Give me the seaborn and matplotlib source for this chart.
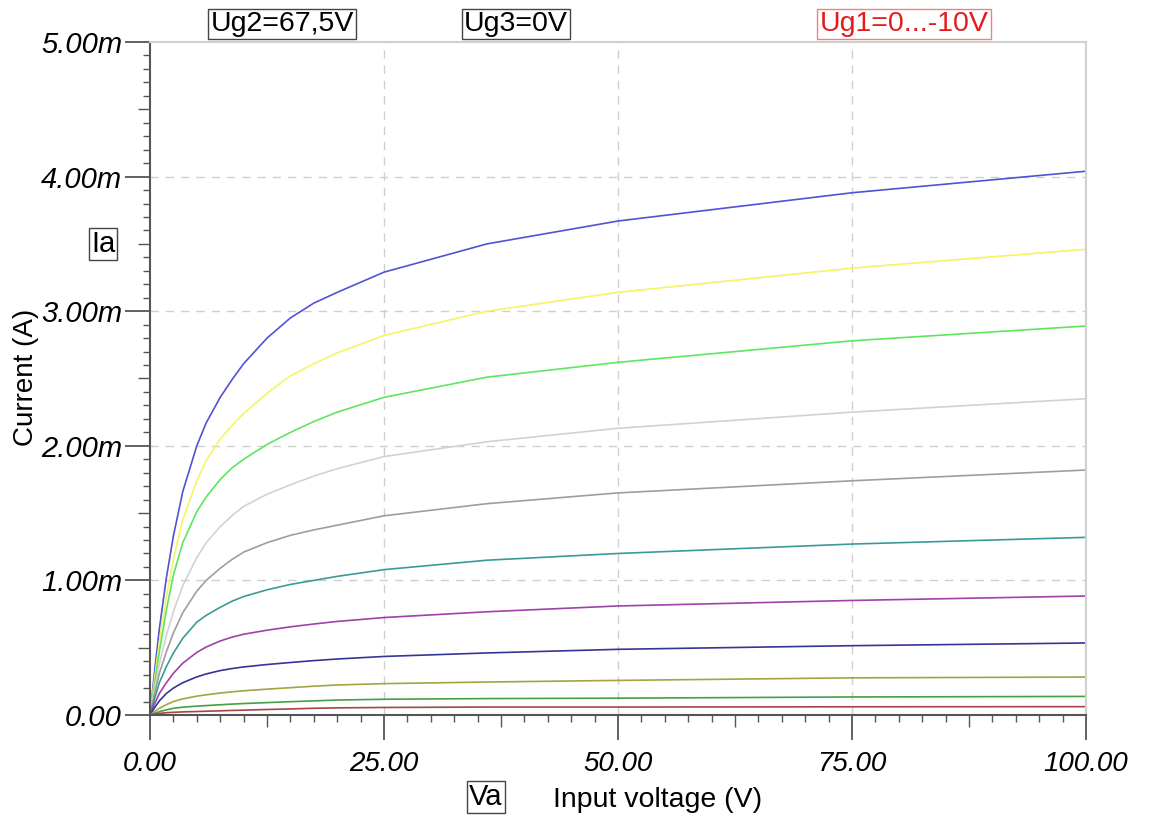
import numpy as np
import pandas as pd
import matplotlib
matplotlib.use("Agg")
import matplotlib.pyplot as plt
from matplotlib.ticker import MultipleLocator, FuncFormatter
import seaborn as sns

# ---- data (anode voltage in V, anode current in mA) ----
va = [0, 0.5, 1, 1.75, 2.5, 3.5, 5, 6, 7.5, 8.75, 10, 12.5, 15, 17.5, 20, 25, 36, 50, 75, 100]
ug1_labels = ["0V", "-1V", "-2V", "-3V", "-4V", "-5V", "-6V", "-7V", "-8V", "-9V", "-10V"]
ia_0 = [0, 0.33, 0.64, 1.02, 1.33, 1.66, 2.00, 2.17, 2.36, 2.49, 2.61, 2.80, 2.95, 3.06, 3.14, 3.29, 3.50, 3.67, 3.88, 4.04]
ia_1 = [0, 0.28, 0.54, 0.88, 1.16, 1.45, 1.74, 1.89, 2.05, 2.15, 2.24, 2.39, 2.52, 2.61, 2.69, 2.82, 3.00, 3.14, 3.32, 3.46]
ia_2 = [0, 0.24, 0.47, 0.78, 1.04, 1.28, 1.51, 1.62, 1.75, 1.835, 1.90, 2.01, 2.10, 2.18, 2.25, 2.36, 2.51, 2.62, 2.78, 2.89]
ia_3 = [0, 0.20, 0.38, 0.59, 0.77, 0.96, 1.17, 1.28, 1.40, 1.48, 1.55, 1.64, 1.71, 1.775, 1.83, 1.92, 2.03, 2.13, 2.25, 2.35]
ia_4 = [0, 0.16, 0.31, 0.47, 0.61, 0.76, 0.92, 1.00, 1.09, 1.155, 1.21, 1.28, 1.335, 1.375, 1.41, 1.48, 1.57, 1.65, 1.74, 1.82]
ia_5 = [0, 0.125, 0.24, 0.36, 0.46, 0.57, 0.69, 0.74, 0.80, 0.845, 0.88, 0.93, 0.97, 1.00, 1.03, 1.08, 1.15, 1.20, 1.27, 1.32]
ia_6 = [0, 0.085, 0.16, 0.24, 0.31, 0.385, 0.465, 0.505, 0.55, 0.578, 0.60, 0.63, 0.655, 0.676, 0.695, 0.724, 0.767, 0.81, 0.851, 0.884]
ia_7 = [0, 0.055, 0.105, 0.16, 0.20, 0.24, 0.283, 0.305, 0.33, 0.345, 0.357, 0.375, 0.39, 0.404, 0.416, 0.435, 0.461, 0.488, 0.515, 0.535]
ia_8 = [0, 0.025, 0.05, 0.077, 0.10, 0.12, 0.14, 0.15, 0.163, 0.172, 0.18, 0.192, 0.203, 0.214, 0.223, 0.233, 0.245, 0.257, 0.276, 0.282]
ia_9 = [0, 0.012, 0.025, 0.038, 0.05, 0.058, 0.066, 0.07, 0.076, 0.081, 0.085, 0.092, 0.099, 0.105, 0.111, 0.117, 0.122, 0.125, 0.134, 0.138]
ia_10 = [0, 0.006, 0.012, 0.017, 0.02, 0.023, 0.026, 0.028, 0.031, 0.034, 0.036, 0.041, 0.045, 0.05, 0.053, 0.056, 0.059, 0.059, 0.061, 0.062]
series = [ia_0, ia_1, ia_2, ia_3, ia_4, ia_5, ia_6, ia_7, ia_8, ia_9, ia_10]
colors = ["#5252d4", "#f4f464", "#5ee65e", "#d2d2d2", "#9e9e9e", "#3a9a9a",
          "#a040a8", "#34349a", "#a4a444", "#44a044", "#a84444"]
x_ticks = [0, 25, 50, 75, 100]
y_ticks_ma = [0, 1, 2, 3, 4, 5]

rows = []
for lab, vals in zip(ug1_labels, series):
    for v, i in zip(va, vals):
        rows.append({"Va": v, "Ia": i * 1e-3, "Ug1": lab})
df = pd.DataFrame(rows)

sns.set_style("white")
plt.rcParams["font.family"] = ["Liberation Sans", "DejaVu Sans"]
plt.rcParams["text.color"] = "black"

W, H = 1173, 821
fig = plt.figure(figsize=(W / 100, H / 100), dpi=100)
ax = fig.add_axes([150 / W, 1 - 715 / H, (1086 - 150) / W, (715 - 42) / H])

sns.lineplot(data=df, x="Va", y="Ia", hue="Ug1", hue_order=ug1_labels,
             palette=colors, estimator=None, sort=False, legend=False,
             linewidth=1.2, ax=ax)
for ln in ax.get_lines():
    ln.set_solid_joinstyle("round")

ax.set_xlim(0, 100)
ax.set_ylim(0, 5e-3)
ax.set_xlabel("")
ax.set_ylabel("")

ax.xaxis.set_major_locator(MultipleLocator(25))
ax.xaxis.set_minor_locator(MultipleLocator(2.5))
ax.yaxis.set_major_locator(MultipleLocator(1e-3))
ax.yaxis.set_minor_locator(MultipleLocator(1e-4))
ax.xaxis.set_major_formatter(FuncFormatter(lambda v, p: f"{v:.2f}"))
ax.yaxis.set_major_formatter(FuncFormatter(
    lambda v, p: "0.00" if abs(v) < 1e-9 else f"{v * 1e3:.2f}m"))

px = 0.72
axis_col = "#555555"
ax.tick_params(axis="both", which="both", bottom=True, left=True, top=False, right=False)
ax.tick_params(axis="both", which="major", direction="out", length=25 * px,
               width=1.3, color=axis_col, labelcolor="black")
ax.tick_params(axis="x", which="major", pad=11 * px, labelsize=20)
ax.tick_params(axis="y", which="major", pad=3 * px, labelsize=21)
ax.tick_params(axis="both", which="minor", direction="out", length=7 * px,
               width=1.0, color=axis_col)
for lbl in ax.get_xticklabels() + ax.get_yticklabels():
    lbl.set_fontstyle("italic")

# longer mid-decade minor ticks
ylocs = ax.yaxis.get_minorticklocs()
for t, loc in zip(ax.yaxis.get_minor_ticks(len(ylocs)), ylocs):
    if abs((loc * 1e4) % 10 - 5) < 1e-6:
        t.tick1line.set_markersize(12 * px)
xlocs = ax.xaxis.get_minorticklocs()
for t, loc in zip(ax.xaxis.get_minor_ticks(len(xlocs)), xlocs):
    if abs((loc / 2.5) % 10 - 5) < 1e-6:
        t.tick1line.set_markersize(12 * px)

for s in ["left", "bottom"]:
    ax.spines[s].set_color(axis_col)
    ax.spines[s].set_linewidth(1.5)
for s in ["top", "right"]:
    ax.spines[s].set_color("#d0d0d0")
    ax.spines[s].set_linewidth(1.5)

for xv in x_ticks[1:-1]:
    ax.axvline(xv, color="#cfcfcf", linestyle=(0, (6, 5)), linewidth=1.0, zorder=0)
for yv in y_ticks_ma[1:-1]:
    ax.axhline(yv * 1e-3, color="#cfcfcf", linestyle=(0, (6, 5)), linewidth=1.0, zorder=0)

def ftext(x, y, s, **kw):
    fig.text(x / W, 1 - y / H, s, ha="center", va="center", **kw)

box = dict(boxstyle="square,pad=0.08", facecolor="white", edgecolor="#444444", linewidth=1.0)
ftext(282, 24, "Ug2=67,5V", fontsize=20.5, color="black", bbox=box)
ftext(516, 24, "Ug3=0V", fontsize=20.5, color="black", bbox=box)
ftext(904, 24, "Ug1=0...-10V", fontsize=20.5, color="#e41b1b",
      bbox=dict(boxstyle="square,pad=0.08", facecolor="white", edgecolor="#f08080", linewidth=1.0))
ftext(103, 244, "Ia", fontsize=21, color="black", bbox=box)
ftext(486, 797, "Va", fontsize=21, color="black", bbox=box)
ftext(658, 800, "Input voltage (V)", fontsize=20.5, color="black")
ftext(26, 377, "Current (A)", fontsize=20, color="black", rotation=90)

fig.savefig("out.png", dpi=100, facecolor="white")
